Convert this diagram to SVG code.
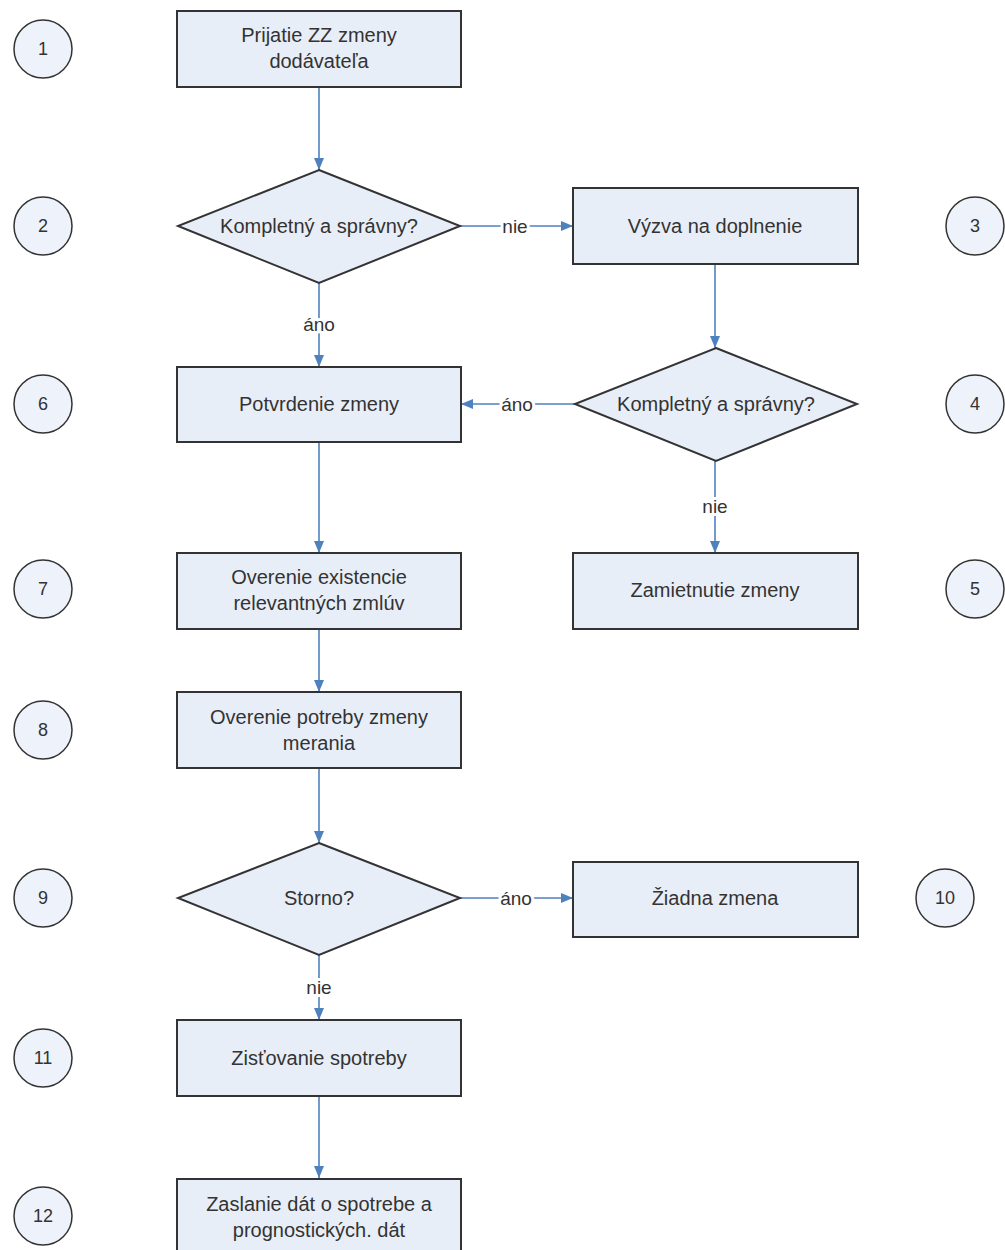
<svg xmlns="http://www.w3.org/2000/svg" width="1005" height="1250" viewBox="0 0 1005 1250">
<defs>
<style>
.box{fill:#e8eef8;stroke:#333;stroke-width:2}
.num{fill:#eef2fa;stroke:#333;stroke-width:1.5}
.t{font-family:"Liberation Sans",Arial,sans-serif;font-size:20px;fill:#333;text-anchor:middle}
.n{font-family:"Liberation Sans",Arial,sans-serif;font-size:18px;fill:#333;text-anchor:middle}
.lbl{font-family:"Liberation Sans",Arial,sans-serif;font-size:19px;fill:#333;text-anchor:middle;stroke:#fff;stroke-width:6;paint-order:stroke;stroke-linejoin:round}
.c{stroke:#4f81bd;stroke-width:1.6;fill:none;marker-end:url(#ah)}
</style>
<marker id="ah" viewBox="0 0 12 10" refX="12" refY="5" markerWidth="12" markerHeight="10" markerUnits="userSpaceOnUse" orient="auto">
<path d="M0,0 L12,5 L0,10 Z" fill="#4f81bd"/>
</marker>
</defs>
<rect width="1005" height="1250" fill="#fff"/>

<g id="connectors">
<line class="c" x1="319" y1="87" x2="319" y2="170"/>
<line class="c" x1="460" y1="226" x2="573" y2="226"/>
<line class="c" x1="319" y1="283" x2="319" y2="367"/>
<line class="c" x1="715" y1="264" x2="715" y2="348"/>
<line class="c" x1="575" y1="404" x2="461" y2="404"/>
<line class="c" x1="715" y1="461" x2="715" y2="553"/>
<line class="c" x1="319" y1="442" x2="319" y2="553"/>
<line class="c" x1="319" y1="628" x2="319" y2="692"/>
<line class="c" x1="319" y1="768" x2="319" y2="843"/>
<line class="c" x1="460" y1="898" x2="573" y2="898"/>
<line class="c" x1="319" y1="955" x2="319" y2="1020"/>
<line class="c" x1="319" y1="1096" x2="319" y2="1178"/>
<text class="lbl" x="515" y="233">nie</text>
<text class="lbl" x="319" y="331">áno</text>
<text class="lbl" x="517" y="411">áno</text>
<text class="lbl" x="715" y="513">nie</text>
<text class="lbl" x="516" y="905">áno</text>
<text class="lbl" x="319" y="994">nie</text>
</g>

<g id="n1"><rect class="box" x="177" y="11" width="284" height="76"/><text class="t" x="319" y="42">Prijatie ZZ zmeny</text><text class="t" x="319" y="68">dodávateľa</text></g>
<g id="n2"><polygon class="box" points="319,170 460,226 319,283 178,226"/><text class="t" x="319" y="233">Kompletný a správny?</text></g>
<g id="n3"><rect class="box" x="573" y="188" width="285" height="76"/><text class="t" x="715" y="233">Výzva na doplnenie</text></g>
<g id="n4"><polygon class="box" points="716,348 857,404 716,461 575,404"/><text class="t" x="716" y="411">Kompletný a správny?</text></g>
<g id="n5"><rect class="box" x="573" y="553" width="285" height="76"/><text class="t" x="715" y="597">Zamietnutie zmeny</text></g>
<g id="n6"><rect class="box" x="177" y="367" width="284" height="75"/><text class="t" x="319" y="411">Potvrdenie zmeny</text></g>
<g id="n7"><rect class="box" x="177" y="553" width="284" height="76"/><text class="t" x="319" y="584">Overenie existencie</text><text class="t" x="319" y="610">relevantných zmlúv</text></g>
<g id="n8"><rect class="box" x="177" y="692" width="284" height="76"/><text class="t" x="319" y="724">Overenie potreby zmeny</text><text class="t" x="319" y="750">merania</text></g>
<g id="n9"><polygon class="box" points="319,843 460,898 319,955 178,898"/><text class="t" x="319" y="905">Storno?</text></g>
<g id="n10"><rect class="box" x="573" y="862" width="285" height="75"/><text class="t" x="715" y="905">Žiadna zmena</text></g>
<g id="n11"><rect class="box" x="177" y="1020" width="284" height="76"/><text class="t" x="319" y="1065">Zisťovanie spotreby</text></g>
<g id="n12"><rect class="box" x="177" y="1179" width="284" height="76"/><text class="t" x="319" y="1211">Zaslanie dát o spotrebe a</text><text class="t" x="319" y="1237">prognostických. dát</text></g>

<g id="s1"><circle class="num" cx="43" cy="49" r="29"/><text class="n" x="43" y="55">1</text></g>
<g id="s2"><circle class="num" cx="43" cy="226" r="29"/><text class="n" x="43" y="232">2</text></g>
<g id="s3"><circle class="num" cx="975" cy="226" r="29"/><text class="n" x="975" y="232">3</text></g>
<g id="s4"><circle class="num" cx="975" cy="404" r="29"/><text class="n" x="975" y="410">4</text></g>
<g id="s5"><circle class="num" cx="975" cy="589" r="29"/><text class="n" x="975" y="595">5</text></g>
<g id="s6"><circle class="num" cx="43" cy="404" r="29"/><text class="n" x="43" y="410">6</text></g>
<g id="s7"><circle class="num" cx="43" cy="589" r="29"/><text class="n" x="43" y="595">7</text></g>
<g id="s8"><circle class="num" cx="43" cy="730" r="29"/><text class="n" x="43" y="736">8</text></g>
<g id="s9"><circle class="num" cx="43" cy="898" r="29"/><text class="n" x="43" y="904">9</text></g>
<g id="s10"><circle class="num" cx="945" cy="898" r="29"/><text class="n" x="945" y="904">10</text></g>
<g id="s11"><circle class="num" cx="43" cy="1058" r="29"/><text class="n" x="43" y="1064">11</text></g>
<g id="s12"><circle class="num" cx="43" cy="1216" r="29"/><text class="n" x="43" y="1222">12</text></g>
</svg>
